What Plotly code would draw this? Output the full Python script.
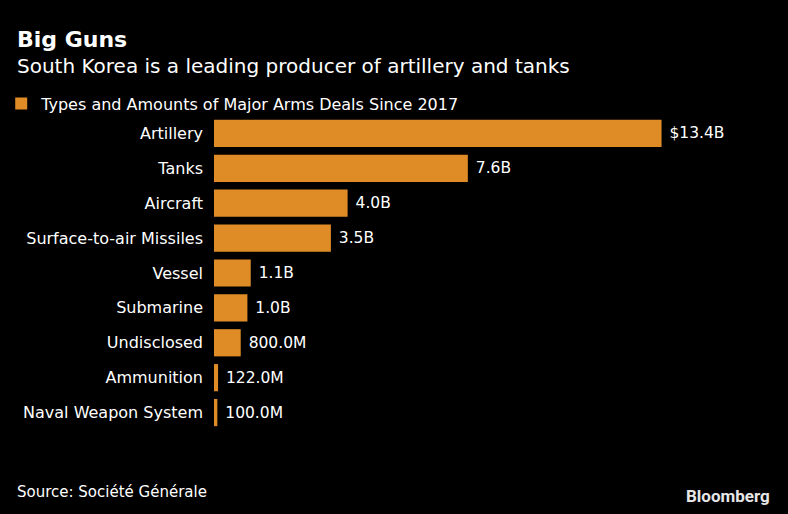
import plotly.graph_objects as go

categories = ["Artillery", "Tanks", "Aircraft", "Surface-to-air Missiles", "Vessel",
              "Submarine", "Undisclosed", "Ammunition", "Naval Weapon System"]
values_bn = [13.4, 7.6, 4.0, 3.5, 1.1, 1.0, 0.8, 0.122, 0.1]
value_labels = ["$13.4B", "7.6B", "4.0B", "3.5B", "1.1B", "1.0B", "800.0M", "122.0M", "100.0M"]
series_name = "Types and Amounts of Major Arms Deals Since 2017"

W, H = 788, 514
ML, MR, MT, MB = 214, 72.5, 115.5, 83.5
PW = W - ML - MR
PH = H - MT - MB

def px_x(x):
    return (x - ML) / PW

def px_y(y):
    return 1 - (y - MT) / PH

BAR = "#DF8C26"
FONT = "DejaVu Sans"

fig = go.Figure()
fig.add_trace(go.Bar(
    y=categories, x=values_bn, orientation="h", name=series_name,
    marker=dict(color=BAR, line=dict(width=0)),
    text=value_labels, texttemplate="\u00a0%{text}",
    textposition="outside", cliponaxis=False,
    textfont=dict(color="white", size=15.5, family=FONT),
    showlegend=True,
))

fig.update_layout(
    width=W, height=H,
    margin=dict(l=ML, r=MR, t=MT, b=MB, pad=0, autoexpand=False),
    paper_bgcolor="black", plot_bgcolor="black",
    font=dict(family=FONT, color="white", size=16),
    bargap=0.22,
    xaxis=dict(range=[0, 15], visible=False, fixedrange=True, automargin=False),
    yaxis=dict(autorange="reversed", showgrid=False, zeroline=False, showline=False,
               ticks="", ticklabelstandoff=10, automargin=False,
               tickfont=dict(size=16, color="white", family=FONT)),
    legend=dict(orientation="h", x=px_x(1), y=px_y(86), xanchor="left", yanchor="top",
                font=dict(size=16, color="white", family=FONT),
                bgcolor="rgba(0,0,0,0)", itemwidth=30),
    showlegend=True,
    annotations=[
        dict(text="<b>Big Guns</b>", x=px_x(15), y=px_y(39), xref="paper", yref="paper",
             xanchor="left", yanchor="middle", showarrow=False,
             font=dict(size=22, color="white", family=FONT)),
        dict(text="South Korea is a leading producer of artillery and tanks", x=px_x(15), y=px_y(65),
             xref="paper", yref="paper", xanchor="left", yanchor="middle", showarrow=False,
             font=dict(size=20, color="white", family=FONT)),
        dict(text="Source: Société Générale", x=px_x(15), y=px_y(493), xref="paper", yref="paper",
             xanchor="left", yanchor="middle", showarrow=False,
             font=dict(size=15, color="white", family=FONT)),
        dict(text="<b>Bloomberg</b>", x=px_x(773), y=px_y(497), xref="paper", yref="paper",
             xanchor="right", yanchor="middle", showarrow=False,
             font=dict(size=17, color="#E6E6E6", family="Roboto")),
    ],
)

fig.write_html("out.html")
